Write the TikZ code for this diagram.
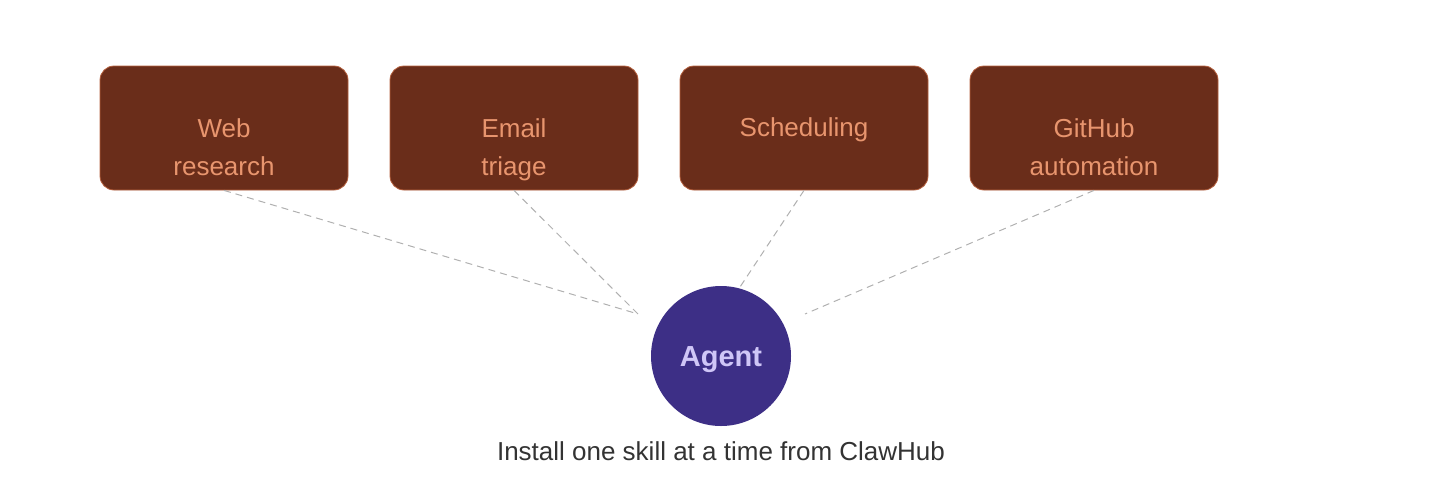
\documentclass[tikz,border=0pt]{standalone}
\usepackage{fontspec}
\setmainfont{Liberation Sans}
\definecolor{boxfill}{HTML}{6A2D1A}
\definecolor{boxedge}{HTML}{B5603E}
\definecolor{boxtext}{HTML}{E8956E}
\definecolor{agentfill}{HTML}{3D2F86}
\definecolor{agenttext}{HTML}{CFC6F7}
\definecolor{captext}{HTML}{333333}
\definecolor{dashcol}{HTML}{B0B0B0}
\tikzset{
  skill/.style={draw=boxedge, line width=0.8pt, fill=boxfill, rounded corners=14pt,
    minimum width=248pt, minimum height=124pt, inner sep=0pt},
  skilltext/.style={text=boxtext, align=center, anchor=center,
    font=\fontsize{26}{38}\selectfont, inner sep=0pt, yshift=-19pt},
  onetext/.style={skilltext, yshift=17pt},
  agent/.style={circle, fill=agentfill, minimum size=140pt, inner sep=0pt,
    text height=21pt, text depth=0pt,
    text=agenttext, font=\fontsize{29}{32}\selectfont\bfseries},
  link/.style={draw=dashcol, dash pattern=on 7pt off 5pt, line width=1pt},
  caption/.style={text=captext, font=\fontsize{26}{30}\selectfont, inner sep=0pt}
}
\begin{document}
\begin{tikzpicture}[x=1pt,y=-1pt]
\useasboundingbox (0,0) rectangle (1431,499);
\node[skill, label={[skilltext]center:Web\\research}] (web) at (224,128) {};
\node[skill, label={[skilltext, yshift=-3pt]center:Email\\triage}] (email) at (514,128) {};
\node[skill, label={[onetext]center:Scheduling}] (sched) at (804,128) {};
\node[skill, label={[skilltext]center:GitHub\\automation}] (git) at (1094,128) {};
\node[agent] (agent) at (721,356) {Agent};
\node[caption] (cap) at (721,451) {Install one skill at a time from ClawHub};
\coordinate (eL) at (638,314);
\coordinate (eS) at (740,287);
\coordinate (eR) at (805,314);
\draw[link] (web.south) -- (eL);
\draw[link] (email.south) -- (eL);
\draw[link] (sched.south) -- (eS);
\draw[link] (git.south) -- (eR);
\end{tikzpicture}
\end{document}
